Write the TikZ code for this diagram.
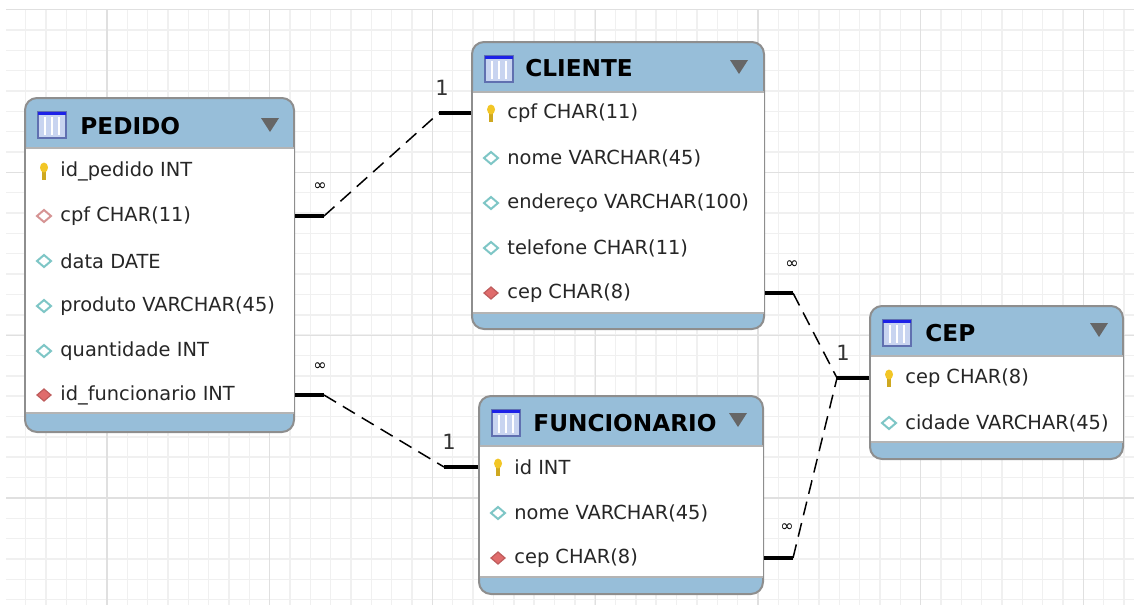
\documentclass[tikz,border=0pt]{standalone}
\usepackage{fontspec}
\setmainfont{DejaVu Sans}
\usetikzlibrary{fit}
\definecolor{hdrblue}{HTML}{97BED9}
\definecolor{tblgray}{HTML}{8E8E8E}
\definecolor{sepgray}{HTML}{B4B4B4}
\definecolor{gridminor}{HTML}{F0F0F0}
\definecolor{gridmajor}{HTML}{E0E0E0}
\definecolor{keyyellow}{HTML}{F2C626}
\definecolor{attrcyan}{HTML}{7EC6C6}
\definecolor{fkpink}{HTML}{D69494}
\definecolor{fkred}{HTML}{E06C6C}
\definecolor{iconblue}{HTML}{C8D4F0}
\definecolor{iconedge}{HTML}{6070B0}
\tikzset{every picture/.style = {x=0.5pt, y=-0.5pt}}
\tikzset{tbl/.style = {draw=tblgray, fill=hdrblue, line width=1pt, rounded corners=6pt, inner sep=0pt}}
\tikzset{sep/.style = {draw=sepgray, line width=0.8pt}}
\tikzset{title/.style = {anchor=west, inner sep=0pt, font=\fontsize{11.6}{13}\selectfont\bfseries}}
\tikzset{attr/.style = {anchor=west, inner sep=0pt, text=black!85, font=\fontsize{9.7}{12}\selectfont}}
\tikzset{col/.style = {draw=attrcyan, fill=white, line width=1pt}}
\tikzset{fk/.style = {draw=fkpink, fill=white, line width=1pt}}
\tikzset{fknn/.style = {draw=fkred!85!black, fill=fkred, line width=0.6pt}}
\tikzset{stub/.style = {line width=2pt}}
\tikzset{rel/.style = {line width=0.75pt, dash pattern=on 7pt off 4pt}}
\tikzset{one/.style = {inner sep=0pt, text=black!80, font=\fontsize{10.5}{12}\selectfont}}
\tikzset{many/.style = {inner sep=0pt, font=\fontsize{8}{9}\selectfont}}
% icons
\tikzset{dia/.pic = {\path[pic actions] (-7,0) -- (0,-6) -- (7,0) -- (0,6) -- cycle;}}
\tikzset{pkey/.pic = {
  \fill[keyyellow!85!black] (-1.6,-1) rectangle (1.6,9);
  \fill[keyyellow] (0,-3.5) ellipse [x radius=4, y radius=5];}}
\tikzset{tblicon/.pic = {
  \draw[iconedge, fill=iconblue, line width=0.6pt] (0,0) rectangle (28,26);
  \fill[blue!70!iconedge] (0,0) rectangle (28,3);
  \foreach \i in {7,14,21} \draw[white, line width=0.6pt] (\i,5) -- (\i,23);}}
\tikzset{menu/.pic = {\fill[black!60] (-9,-7) -- (9,-7) -- (0,7) -- cycle;}}

\begin{document}
\begin{tikzpicture}
  \useasboundingbox (0,0) rectangle (1134,605);
  % grid
  \begin{scope}
    \clip (6,9) rectangle (1134,605);
    \foreach \i in {0,...,55}
      \draw[gridminor, line width=0.7pt] ({5.3+20.34*\i},9) -- ({5.3+20.34*\i},605);
    \foreach \j in {0,...,29}
      \draw[gridminor, line width=0.7pt] (6,{9.7+20.34*\j}) -- (1134,{9.7+20.34*\j});
    \foreach \i in {0,...,6}
      \draw[gridmajor, line width=0.7pt] ({107+162.75*\i},9) -- ({107+162.75*\i},605);
    \foreach \j in {0,...,3}
      \draw[gridmajor, line width=0.7pt] (6,{9.7+162.75*\j}) -- (1134,{9.7+162.75*\j});
  \end{scope}

  % PEDIDO
  \node[tbl, fit={(25,98) (294,432)}] (pedido) {};
  \fill[white] (25.5,148) rectangle (293.5,413);
  \draw[sep] (25.5,148) -- (293.5,148) (25.5,413) -- (293.5,413);
  \pic at (38,112) {tblicon};
  \node[title] (pedido-t) at (80,126) {PEDIDO};
  \pic at (270,125) {menu};
  \pic at (44,171) {pkey};
  \node[attr] (p-id) at (60,171) {id\_pedido INT};
  \pic[fk] at (44,216) {dia};
  \node[attr] (p-cpf) at (60,216) {cpf CHAR(11)};
  \pic[col] at (44,261) {dia};
  \node[attr] (p-data) at (60,261) {data DATE};
  \pic[col] at (44,306) {dia};
  \node[attr] (p-prod) at (60,306) {produto VARCHAR(45)};
  \pic[col] at (44,351) {dia};
  \node[attr] (p-qtd) at (60,351) {quantidade INT};
  \pic[fknn] at (44,395) {dia};
  \node[attr] (p-func) at (60,395) {id\_funcionario INT};

  % CLIENTE
  \node[tbl, fit={(472,42) (764,329)}] (cliente) {};
  \fill[white] (472.5,92) rectangle (763.5,313);
  \draw[sep] (472.5,92) -- (763.5,92) (472.5,313) -- (763.5,313);
  \pic at (485,56) {tblicon};
  \node[title] (cliente-t) at (525,68) {CLIENTE};
  \pic at (739,67) {menu};
  \pic at (491,113) {pkey};
  \node[attr] (c-cpf) at (507,113) {cpf CHAR(11)};
  \pic[col] at (491,158) {dia};
  \node[attr] (c-nome) at (507,158) {nome VARCHAR(45)};
  \pic[col] at (491,203) {dia};
  \node[attr] (c-end) at (507,203) {endereço VARCHAR(100)};
  \pic[col] at (491,248) {dia};
  \node[attr] (c-tel) at (507,248) {telefone CHAR(11)};
  \pic[fknn] at (491,293) {dia};
  \node[attr] (c-cep) at (507,293) {cep CHAR(8)};

  % FUNCIONARIO
  \node[tbl, fit={(479,396) (763,594)}] (funcionario) {};
  \fill[white] (479.5,446) rectangle (762.5,577);
  \draw[sep] (479.5,446) -- (762.5,446) (479.5,577) -- (762.5,577);
  \pic at (492,410) {tblicon};
  \node[title] (funcionario-t) at (533,423) {FUNCIONARIO};
  \pic at (738,420) {menu};
  \pic at (498,467) {pkey};
  \node[attr] (f-id) at (514,467) {id INT};
  \pic[col] at (498,513) {dia};
  \node[attr] (f-nome) at (514,513) {nome VARCHAR(45)};
  \pic[fknn] at (498,558) {dia};
  \node[attr] (f-cep) at (514,558) {cep CHAR(8)};

  % CEP
  \node[tbl, fit={(870,306) (1123,459)}] (cep) {};
  \fill[white] (870.5,356) rectangle (1122.5,442);
  \draw[sep] (870.5,356) -- (1122.5,356) (870.5,442) -- (1122.5,442);
  \pic at (883,320) {tblicon};
  \node[title] (cep-t) at (925,333) {CEP};
  \pic at (1099,330) {menu};
  \pic at (889,378) {pkey};
  \node[attr] (e-cep) at (905,378) {cep CHAR(8)};
  \pic[col] at (889,423) {dia};
  \node[attr] (e-cid) at (905,423) {cidade VARCHAR(45)};

  % relationships
  \draw[stub] (pedido.east |- p-cpf) -- ++(29,0) coordinate (r1a);
  \draw[stub] (cliente.west |- c-cpf) -- ++(-32,0) coordinate (r1b);
  \draw[rel] (r1a) -- (r1b);
  \node[many] (r1m) at (320,187) {∞};
  \node[one] (r1o) at (442,88) {1};

  \draw[stub] (pedido.east |- p-func) -- ++(29,0) coordinate (r2a);
  \draw[stub] (funcionario.west |- f-id) -- ++(-34,0) coordinate (r2b);
  \draw[rel] (r2a) -- (r2b);
  \node[many] (r2m) at (320,367) {∞};
  \node[one] (r2o) at (449,442) {1};

  \draw[stub] (cliente.east |- c-cep) -- ++(28,0) coordinate (r3a);
  \draw[stub] (cep.west |- e-cep) -- ++(-32,0) coordinate (r3b);
  \draw[rel] (r3a) -- (r3b);
  \node[many] (r3m) at (792,265) {∞};
  \node[one] (r3o) at (843,353) {1};

  \draw[stub] (funcionario.east |- f-cep) -- ++(29,0) coordinate (r4a);
  \draw[rel] (r4a) -- (r3b);
  \node[many] (r4m) at (787,528) {∞};
\end{tikzpicture}
\end{document}
